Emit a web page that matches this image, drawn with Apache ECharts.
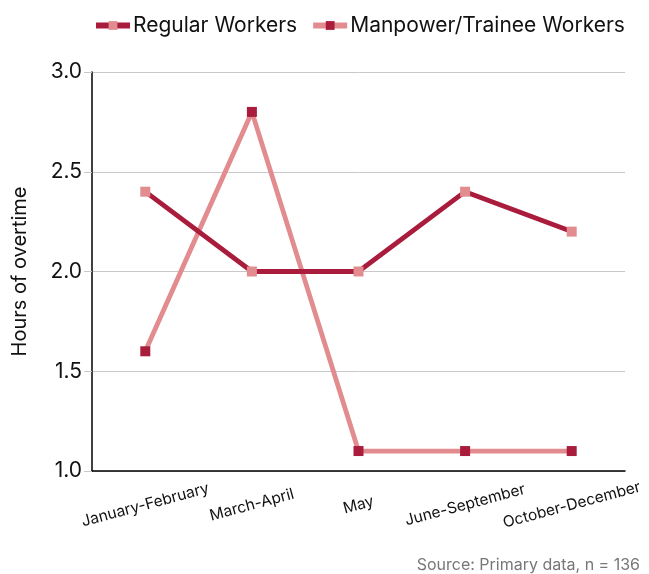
<!DOCTYPE html>
<html><head><meta charset="utf-8">
<script src="https://cdn.jsdelivr.net/npm/echarts@6/dist/echarts.min.js"></script>
<style>html,body{margin:0;padding:0;background:#fff}#c{width:649px;height:574px}</style>
</head><body><div id="c"></div>
<script>
const categories = ["January-February","March-April","May","June-September","October-December"];
const regularWorkers = [2.4, 2.0, 2.0, 2.4, 2.2];
const manpowerWorkers = [1.6, 2.8, 1.1, 1.1, 1.1];
const yTicks = [1.0, 1.5, 2.0, 2.5, 3.0];
const DARK = "#A91C3B", LIGHT = "#E28C90";
const chart = echarts.init(document.getElementById('c'), null, {renderer:'canvas'});
chart.setOption({
  animation:false,
  textStyle:{fontFamily:'Inter'},
  legend:{top:15, left:93, padding:0, itemWidth:34, itemHeight:11, itemGap:13,
    lineStyle:{width:6},
    textStyle:{fontSize:21, color:'#111', fontFamily:'Inter', padding:[0,0,0,-2]},
    data:["Regular Workers","Manpower/Trainee Workers"]},
  grid:{left:92, right:24, top:72, bottom:103},
  xAxis:{type:'category', data:categories, boundaryGap:true,
    axisLine:{lineStyle:{color:'#000', width:1.5}},
    axisTick:{alignWithLabel:true, inside:true, length:9, lineStyle:{color:'#000'}},
    axisLabel:{rotate:15, fontSize:15.5, color:'#111', margin:34, interval:0, align:'center', verticalAlign:'middle', fontFamily:'Inter'}},
  yAxis:{type:'value', min:yTicks[0], max:yTicks[yTicks.length-1], interval:0.5,
    name:'Hours of overtime', nameLocation:'middle', nameGap:62, nameRotate:90,
    nameTextStyle:{fontSize:20, color:'#111', fontFamily:'Inter'},
    axisLine:{show:true, lineStyle:{color:'#000', width:1.5}},
    axisTick:{show:true, length:8, lineStyle:{color:'#c8c8c8'}},
    axisLabel:{fontSize:21, color:'#111', formatter:v=>v.toFixed(1), margin:10, fontFamily:'Inter'},
    splitLine:{lineStyle:{color:'#c8c8c8', width:1}}},
  series:[
    {name:"Regular Workers", type:'line', data:regularWorkers, symbol:'rect', symbolSize:10,
      lineStyle:{color:DARK, width:4.8}, itemStyle:{color:LIGHT}, z:3},
    {name:"Manpower/Trainee Workers", type:'line', data:manpowerWorkers, symbol:'rect', symbolSize:10,
      lineStyle:{color:LIGHT, width:4.8}, itemStyle:{color:DARK}, z:2}
  ],
  graphic:[{type:'text', right:9, bottom:1, style:{text:'Source: Primary data, n = 136', fontSize:16, fill:'#777', fontFamily:'Inter'}}]
});
</script></body></html>
